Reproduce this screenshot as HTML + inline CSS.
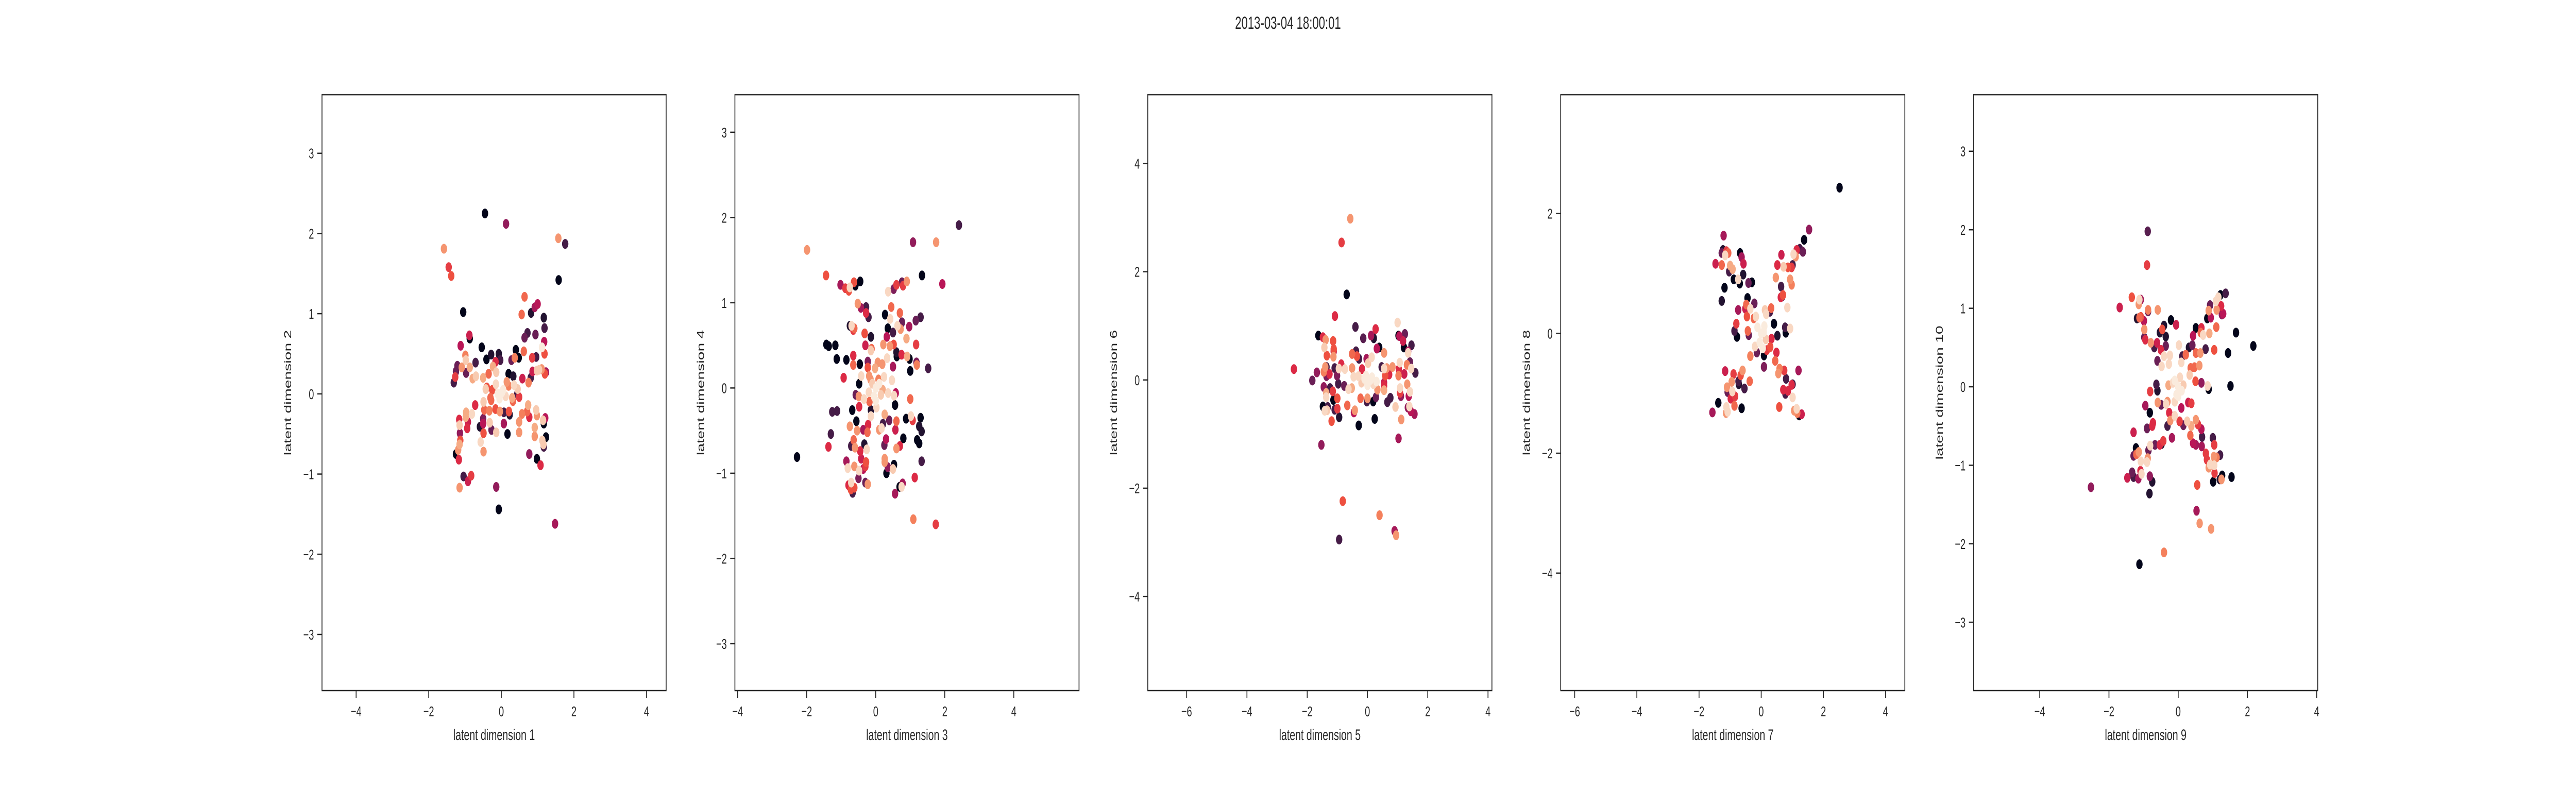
<!DOCTYPE html>
<html><head><meta charset="utf-8">
<style>
html,body{margin:0;padding:0;background:#fff;width:100%;height:100%;overflow:hidden;}
svg{display:block;position:absolute;left:0;top:0;width:100vw;height:100vh;font-family:"Liberation Sans","DejaVu Sans",sans-serif;}
</style></head>
<body>
<svg id="fig" viewBox="0 0 7680 1536" preserveAspectRatio="none" xmlns="http://www.w3.org/2000/svg">
<rect width="7680" height="1536" fill="#fff"/>
<text x="3840" y="56" text-anchor="middle" font-size="34" fill="#262626">2013-03-04 18:00:01</text>
</svg>
<script>
const xlabels = ["latent dimension 1","latent dimension 3","latent dimension 5","latent dimension 7","latent dimension 9"];
const ylabels = ["latent dimension 2","latent dimension 4","latent dimension 6","latent dimension 8","latent dimension 10"];
const xlims = [[-4.94,4.54],[-4.08,5.89],[-7.29,4.13],[-6.45,4.62],[-5.91,4.03]];
const ylims = [[-3.70,3.73],[-3.55,3.44],[-5.74,5.27],[-5.96,3.98],[-3.87,3.72]];
const xticks = [[-4,-2,0,2,4],[-4,-2,0,2,4],[-6,-4,-2,0,2,4],[-6,-4,-2,0,2,4],[-4,-2,0,2,4]];
const yticks = [[-3,-2,-1,0,1,2,3],[-3,-2,-1,0,1,2,3],[-4,-2,0,2,4],[-4,-2,0,2],[-3,-2,-1,0,1,2,3]];

const p1x = [-0.45,0.13,-1.58,-1.45,-1.38,1.57,1.76,1.58,-1.05,0.64,0.56,0.82,0.92,1.0,1.17,1.19,0.72,0.64,0.94,1.18,1.12,1.19,0.62,0.4,0.48,0.37,0.28,0.85,0.96,-0.88,-0.87,-1.12,-0.54,-0.41,-0.28,-0.07,-0.03,-0.71,-0.99,-0.98,-1.09,-0.87,-1.21,-1.25,-1.27,-1.31,-0.97,-0.79,-0.7,-0.5,-0.35,-0.23,-0.14,-0.16,-0.43,0.2,0.33,0.35,0.58,0.86,0.98,1.04,1.11,1.23,1.2,0.81,0.75,0.44,0.49,0.32,-0.49,-0.72,-0.28,-0.47,-0.33,-0.16,-0.04,0.21,0.23,0.07,0.57,0.74,0.71,0.96,0.98,1.21,1.17,1.15,0.77,0.49,0.49,0.92,0.92,1.23,1.13,1.16,1.17,0.77,0.98,1.08,0.17,0.07,-0.14,-0.27,-0.32,-0.5,-0.5,-0.59,-0.49,-0.57,-0.49,-0.81,-0.97,-0.98,-0.92,-0.94,-1.16,-1.15,-1.14,-1.13,-1.15,-1.19,-1.25,-1.17,-1.04,-0.92,-0.83,-1.15,-0.14,-0.07,1.48,-0.25,0.2,-0.3,0.3,-0.15,0.15,-0.4,0.45,0.0,-0.1,0.12,0.05,-0.05,0.02];
const p1y = [2.25,2.12,1.81,1.58,1.47,1.94,1.87,1.42,1.02,1.21,0.99,1.01,1.08,1.12,0.95,0.82,0.76,0.7,0.74,0.65,0.58,0.5,0.53,0.55,0.45,0.45,0.42,0.45,0.46,0.73,0.69,0.6,0.58,0.43,0.49,0.5,0.42,0.39,0.48,0.42,0.33,0.33,0.35,0.28,0.21,0.14,0.26,0.19,0.22,0.2,0.25,0.34,0.27,0.4,0.06,0.25,0.22,0.11,0.19,0.28,0.29,0.3,0.31,0.27,0.25,0.2,0.14,0.0,-0.04,-0.09,-0.1,-0.14,-0.08,-0.2,-0.21,-0.19,-0.22,-0.22,-0.26,-0.23,-0.25,-0.14,-0.22,-0.2,-0.27,-0.3,-0.37,-0.33,-0.29,-0.35,-0.48,-0.42,-0.53,-0.54,-0.58,-0.63,-0.66,-0.75,-0.81,-0.89,-0.5,-0.37,-0.48,-0.45,-0.36,-0.37,-0.31,-0.41,-0.49,-0.6,-0.72,-0.25,-0.23,-0.29,-0.35,-0.43,-0.32,-0.39,-0.49,-0.58,-0.63,-0.7,-0.75,-0.82,-1.03,-1.09,-1.02,-1.17,-1.16,-1.44,-1.62,0.05,0.1,-0.05,-0.05,0.12,0.15,0.08,0.06,0.01,0.0,-0.03,0.05,-0.06,0.02];
const p1c = [0,0.4,0.85,0.65,0.7,0.85,0.2,0,0,0.75,0.75,0.1,0.45,0.5,0.1,0.2,0.2,0.3,0.3,0.5,1,0.7,0.75,0,0,0.8,0.3,0.65,0.2,0.55,0,0.5,0,0,0.1,0.1,0.2,0.2,0.8,0.95,0.85,0.9,0.3,0.3,0.65,0.2,0.3,0.9,0.95,0.9,0.75,0.9,0.95,0.6,0.95,0,0.1,0.97,0.55,0.55,0.95,0.95,0.85,0.45,0.7,0.2,0.8,0.2,0.65,0.75,0.95,0.6,0.75,0.75,0.8,0.7,0.85,0.7,0.1,0.2,0.8,0.9,0.75,0.95,0.85,0.5,0,0.95,0.6,0.85,0.85,0.9,0.85,0,0.95,0.95,0.2,0.4,0,0.6,0,0.45,0.95,0.3,0.95,0.5,0.35,0.1,0.7,0.97,0.85,0.97,0.9,0.9,0.55,0.6,0.6,0.95,0.4,0.7,0.9,0.85,0,0.6,0.2,0.55,0.65,0.85,0.4,0,0.45,0.7,0.8,0.75,0.9,0.97,0.85,0.7,0.95,1,1,0.97,1,1,1];

const p2x = [2.41,1.08,1.75,-1.99,1.34,1.93,-1.44,-1.02,-0.88,-0.78,-0.75,-0.63,-0.45,-0.59,-0.52,-0.43,-0.28,-0.28,-0.21,0.36,0.52,0.6,0.76,0.79,0.9,0.45,0.27,0.7,0.42,0.63,0.76,0.72,0.97,1.16,1.3,0.35,0.5,0.32,0.89,1.17,0.22,0.41,0.52,0.6,0.61,0.75,0.91,0.98,1.18,1.19,1.52,1.0,0.5,0.33,-1.43,-1.36,-1.17,-1.13,-0.85,-0.75,-0.7,-0.62,-0.65,-0.32,-0.32,-0.14,-0.3,-0.12,-0.14,-0.65,-0.65,-0.46,-0.23,-0.23,-0.02,0.06,0.19,-0.93,-0.42,-0.19,0.24,0.47,-0.48,-0.58,-0.49,-0.34,-0.48,-0.18,-0.68,-1.26,-1.12,-0.14,-0.14,0.02,0.26,0.36,0.53,0.58,0.56,1.0,0.88,1.02,1.07,1.3,1.26,1.33,0.39,0.6,0.57,0.21,0.17,0.1,0.3,0.25,0.8,1.2,1.26,0.7,0.6,1.33,-0.56,-0.75,-0.54,-0.36,-0.24,-0.22,-1.3,-1.37,-0.64,-0.71,-0.6,-0.33,-0.26,-0.45,-0.42,-0.85,-0.81,-0.62,-0.48,-0.28,-0.3,-0.36,-0.5,-0.3,-0.23,-0.71,-0.79,-0.62,-0.67,-0.72,0.26,0.26,0.35,0.31,0.53,0.5,0.69,0.78,0.75,0.56,1.13,1.09,1.74,-2.28,-0.1,0.1,0.0,-0.2,0.2,-0.05,0.08,0.15,-0.15,0.0];
const p2y = [1.91,1.71,1.71,1.62,1.32,1.22,1.32,1.21,1.17,1.14,1.18,1.24,1.25,1.2,0.99,0.94,0.95,0.88,0.83,1.13,1.16,1.21,1.24,1.2,1.25,0.95,0.86,0.88,0.81,0.73,0.77,0.69,0.72,0.79,0.83,0.7,0.65,0.6,0.58,0.51,0.51,0.49,0.51,0.42,0.37,0.39,0.37,0.34,0.3,0.27,0.23,0.2,0.25,0.35,0.51,0.49,0.5,0.34,0.33,0.73,0.73,0.7,0.68,0.64,0.64,0.6,0.5,0.46,0.44,0.38,0.27,0.28,0.31,0.24,0.23,0.3,0.28,0.12,0.14,0.14,0.13,0.09,0.05,-0.08,-0.1,-0.13,-0.22,-0.16,-0.26,-0.28,-0.27,-0.26,-0.33,-0.23,-0.31,-0.06,-0.09,-0.06,-0.2,-0.13,-0.36,-0.33,-0.38,-0.35,-0.45,-0.51,-0.38,-0.39,-0.49,-0.42,-0.47,-0.49,-0.6,-0.67,-0.59,-0.61,-0.65,-0.68,-0.71,-0.86,-0.39,-0.45,-0.5,-0.49,-0.52,-0.43,-0.54,-0.69,-0.61,-0.68,-0.7,-0.66,-0.72,-0.74,-0.83,-0.86,-0.94,-0.92,-0.97,-0.87,-0.92,-0.95,-1.06,-1.11,-1.13,-1.11,-1.14,-1.17,-1.23,-1.19,-0.83,-0.87,-0.93,-1.0,-0.9,-0.95,-1.16,-1.12,-1.16,-1.24,-1.05,-1.54,-1.6,-0.81,0.05,0.05,0.0,-0.05,-0.02,-0.1,0.1,-0.08,0.1,-0.15];
const p2c = [0.2,0.4,0.85,0.85,0,0.5,0.7,0.45,0.65,0.7,0.97,0.7,0,0,0.85,0.45,0.2,0.6,0.2,0.97,0.35,0.65,0.3,0.65,0.85,0.75,0,0.75,0.97,0.97,0.3,0.85,0.45,0.3,0.2,0,0.2,0.5,0.9,0.65,0.85,0.85,0.7,0.1,0,0.6,0.9,0,0.35,0.8,0.2,0,0.45,0.97,0,0,0,0,0,0.1,0.97,0.75,0.65,0.2,0.7,0.1,0.55,0.75,0.95,0.6,0.75,0,0.35,0.7,0.9,0.85,0.85,0.6,0.97,0.85,0.97,0.97,0,0.3,0.85,0.97,0.6,0.75,0,0.2,0.2,0.1,0.97,0.97,0.9,0.97,0.97,0.5,0,0.75,0,0.97,0.65,0,0.1,0.1,0.3,0.75,0.55,0.2,0.97,0.85,0.5,0.3,0,0,0,0.6,0.85,0.2,0,0.85,0.85,0.45,0.75,0.6,0.2,0.6,0.75,0.2,0.85,0.1,0.97,0.6,0.55,0.45,0.97,0.85,0.97,0.7,0.65,0.5,0.35,0.3,0.85,0.97,0.6,0.7,0.2,0.7,0.85,0.85,0.4,0,0,0.95,0,0.45,0.97,0.45,0.6,0.8,0.65,0,0.95,1,1,0.97,0.9,1,0.8,0.95,0.85];

const p3x = [-0.57,-0.86,-0.69,-1.08,-0.4,-0.14,0.12,0.21,0.27,0.31,0.39,0.55,1.0,1.03,1.06,1.24,1.18,1.21,1.46,1.35,1.35,-1.63,-1.48,-1.39,-1.14,-1.43,-1.12,-1.35,-1.13,-1.12,-2.44,-1.68,-1.83,-1.4,-1.36,-1.45,-1.26,-1.36,-1.09,-0.95,-0.75,-1.01,-0.87,-0.51,-0.38,-0.35,-0.28,-0.03,0.14,0.02,-0.51,-0.18,-0.46,-0.3,0.47,0.55,0.64,0.72,0.83,1.07,1.03,1.04,1.22,1.31,1.41,1.45,1.59,0.59,0.55,-1.45,-1.37,-1.37,-1.48,-1.32,-1.42,-1.34,-1.15,-1.13,-1.0,-1.0,-1.09,-1.19,-0.94,-1.24,-0.97,-0.77,-0.67,-0.63,-0.52,-0.45,-0.42,-0.29,-0.23,-0.02,0.0,0.19,0.28,0.33,0.55,0.55,0.76,0.66,0.24,0.93,1.12,1.03,1.08,1.08,1.11,1.41,1.37,1.34,1.39,1.44,1.56,1.32,-1.53,-0.82,0.4,0.9,0.95,-0.94,-0.1,0.1,0.3,0.0,-0.2,0.15,-0.05,0.2];
const p3y = [2.98,2.54,1.58,1.18,0.98,0.77,0.82,0.77,0.94,0.58,0.6,0.5,1.06,0.82,0.81,0.85,0.72,0.6,0.64,0.53,0.5,0.82,0.79,0.74,0.72,0.6,0.57,0.45,0.43,0.53,0.2,0.14,-0.01,0.24,0.24,0.15,0.11,0.07,0.22,0.21,0.2,0.08,0.29,0.48,0.53,0.44,0.39,0.39,0.42,0.31,0.22,0.2,0.06,0.07,0.24,0.21,0.22,0.1,0.24,0.32,0.08,0.2,0.11,0.28,0.33,0.21,0.13,0.08,-0.05,-0.13,-0.24,-0.32,-0.49,-0.5,-0.57,-0.56,-0.21,-0.37,-0.34,-0.53,-0.55,-0.76,-0.69,-0.15,-0.07,-0.11,-0.47,-0.17,-0.15,-0.6,-0.56,-0.84,-0.34,-0.4,-0.34,-0.4,-0.32,-0.18,-0.19,-0.11,-0.33,-0.41,-0.72,-0.5,-0.73,-1.08,-0.15,-0.24,-0.3,-0.22,-0.3,-0.51,-0.49,-0.58,-0.63,-0.08,-1.2,-2.24,-2.5,-2.79,-2.87,-2.95,0.02,0.0,-0.03,-0.1,-0.05,0.05,0.08,-0.08];
const p3c = [0.85,0.65,0,0.6,0.2,0.25,0.45,0.1,0.6,0.5,0,0.85,0.97,0,0.5,0.3,0.55,0,0.2,0.45,0.97,0,0.6,0.85,0.7,0.95,0.7,0.7,0.85,0.55,0.6,0.4,0.3,0.85,0.2,0.8,0.6,0.35,0.2,0.97,0.97,0.35,0.6,0.75,0.2,0.7,0.2,0.45,0.97,0.95,0.85,0.6,0.97,0.97,0.2,0.97,0.85,0.6,0.85,0.97,0.8,0.6,0.55,0.8,0.3,0.97,0.2,0.7,0.55,0.4,0.9,0.97,0,0.2,0.97,0.95,0.65,0,0.7,0.65,0.2,0.7,0.1,0.2,0.2,0.3,0.75,0.97,0.9,0.5,0.85,0,0.75,0.2,0.85,0,0.3,0.85,0.9,0.6,0.2,0.2,0,0.95,0.85,0.45,0.97,0.65,0.4,0.97,0.5,0.4,0.97,0.5,0.45,0.85,0.4,0.7,0.8,0.45,0.85,0.2,1,1,1,1,0.95,1,1,0.97];

const p4x = [2.52,1.54,1.38,1.34,1.24,1.14,1.04,1.11,1.01,0.98,0.86,0.72,0.65,0.52,0.47,0.93,0.98,0.64,0.68,0.63,0.7,0.84,-1.21,-1.23,-1.27,-1.12,-1.06,-1.16,-1.47,-1.27,-1.0,-0.92,-1.03,-0.88,-0.74,-0.68,-0.63,-0.57,-0.58,-0.69,-0.41,-0.3,-1.18,-1.27,-0.44,-0.22,-0.48,-0.74,-0.51,-0.35,-0.46,-0.24,-0.17,0.12,0.16,0.32,0.28,0.41,-0.8,-0.86,-0.78,-0.43,-0.4,0.52,0.77,0.79,0.93,0.33,0.29,0.49,0.09,-0.14,-0.35,0.18,0.45,0.09,0.59,0.55,0.74,0.8,1.01,0.98,1.2,0.71,0.78,0.86,1.01,0.58,1.06,1.14,1.3,1.22,1.16,-1.16,-0.89,-0.6,-0.66,-0.37,-0.73,-0.72,-0.54,-0.95,-1.1,-1.08,-0.93,-0.98,-0.84,-0.86,-0.63,-1.38,-1.57,-1.12,-1.13,-1.08,0.0,-0.12,0.1,-0.2,0.15,0.05,-0.05,0.08];
const p4y = [2.43,1.73,1.56,1.36,1.41,1.39,1.32,1.28,1.14,1.1,1.1,1.11,1.31,1.14,0.93,0.9,0.81,0.78,0.62,0.6,0.64,0.43,1.63,1.39,1.34,1.37,1.34,1.3,1.16,1.14,1.13,1.07,1.03,0.9,0.9,1.34,1.27,1.16,0.98,0.83,0.84,0.85,0.76,0.54,0.59,0.5,0.48,0.39,0.41,0.41,0.28,0.25,0.28,0.39,0.32,0.42,0.36,0.16,0.16,0.04,-0.06,0.04,-0.03,-0.04,0.1,0.01,0.08,-0.09,-0.23,-0.32,-0.37,-0.32,-0.38,-0.28,-0.46,-0.56,-0.59,-0.67,-0.62,-0.76,-0.85,-0.86,-0.62,-0.94,-1.01,-0.96,-1.07,-1.23,-1.29,-1.26,-1.35,-1.37,-1.33,-0.63,-0.68,-0.62,-0.7,-0.8,-0.8,-0.85,-0.92,-0.81,-0.9,-0.98,-0.97,-1.09,-1.05,-1.21,-1.25,-1.16,-1.32,-1.23,-1.33,-1.31,0.0,0.1,0.12,-0.22,-0.1,-0.25,-0.15,0.02];
const p4c = [0,0.4,0,0.3,0.2,0.6,0.97,0.85,0.2,0.65,0.7,0.95,0.55,0.6,0.85,0.85,0.8,0.2,0.2,0.6,0.7,0.97,0.45,0.1,0.3,0.65,0.75,0.97,0.55,0.75,0.9,0.9,0.2,0,0.97,0,0.45,0.55,0.1,0,0.3,0,0,0.1,0,0.3,0.75,0.45,0.55,0.97,0.7,0.75,0.97,0.95,0.97,0.75,0.2,0,0.65,0.2,0,0.75,0.3,0.1,0.2,0,0.97,0.6,0.7,0.6,0,0.3,0.8,0.65,0.75,0.35,0.8,0.85,0.65,0.2,0.2,0.6,0.45,0.6,0.2,0.6,0.97,0.7,0.85,0.97,0.55,0,0.8,0.55,0.65,0.85,0.7,0.75,0.2,0.1,0.2,0.85,0.85,0.3,0.97,0.6,0.65,0.75,0,0,0.45,0.97,0.85,0.97,1,1,1,0.97,0.95,1,1,1];

const p5x = [-0.88,-0.9,-1.34,-1.08,-1.12,-1.14,-1.69,-0.87,-0.87,-0.59,-1.19,-1.08,-0.99,-1.12,-0.98,-0.98,-0.95,-0.79,-0.61,-0.69,-0.5,-0.6,-0.41,-0.24,-0.48,-0.27,-0.46,-0.53,-0.41,-0.36,-0.36,-0.21,-0.06,0.02,0.43,0.51,0.67,0.65,0.72,0.9,1.1,0.88,0.84,0.94,0.92,1.09,1.16,1.22,1.37,1.11,1.24,1.26,1.3,1.67,2.17,1.44,1.51,1.04,0.79,0.64,0.51,0.41,0.31,0.61,0.47,0.36,0.22,0.12,0.09,0.67,0.85,0.88,0.5,0.33,-0.63,-0.6,-0.81,-0.28,-0.95,-0.59,-0.49,-0.31,-0.35,-0.1,-0.82,-0.26,-0.1,-0.23,0.04,0.26,0.15,0.38,0.51,0.57,0.67,0.69,0.35,0.29,0.38,0.09,-0.31,-0.73,-0.75,-0.9,-1.29,-0.18,-0.43,-0.53,-0.48,-0.67,-0.81,-0.86,-1.22,-1.14,-1.21,-1.29,-0.88,-1.08,-0.9,-1.09,-1.06,-1.33,-1.29,-1.47,-1.15,-0.82,-0.75,-0.83,-2.52,0.43,0.51,0.68,1.0,1.04,0.8,0.83,1.03,1.11,1.21,0.88,1.04,0.92,1.05,1.27,1.2,1.25,1.54,1.01,0.55,0.53,0.62,0.95,-0.41,-1.12,0.0,-0.1,0.1,0.05,-0.05,0.15,-0.15,0.0];
const p5y = [1.98,1.55,1.14,1.11,1.11,1.05,1.01,0.96,0.98,0.98,0.87,0.89,0.84,0.88,0.73,0.63,0.6,0.56,0.56,0.5,0.47,0.33,0.39,0.4,0.26,0.29,0.73,0.69,0.78,0.64,0.52,0.85,0.79,0.53,0.65,0.75,0.75,0.69,0.66,0.68,0.76,0.97,0.87,0.88,1.04,1.09,1.14,1.17,1.19,0.98,1.03,0.92,0.93,0.69,0.52,0.43,0.01,0.47,0.48,0.43,0.43,0.53,0.5,0.27,0.25,0.24,0.41,0.39,0.31,0.05,0.01,-0.03,0.07,0.15,0.03,-0.05,-0.06,0.02,-0.24,-0.2,-0.23,-0.19,-0.22,-0.19,-0.33,-0.33,-0.37,-0.43,-0.44,-0.44,-0.49,-0.5,-0.42,-0.48,-0.54,-0.64,-0.62,-0.2,-0.21,-0.27,-0.5,-0.46,-0.5,-0.53,-0.58,-0.65,-0.69,-0.74,-0.73,-0.74,-0.75,-0.81,-0.78,-0.83,-0.86,-0.88,-0.91,-0.95,-0.96,-1.07,-1.11,-1.09,-1.15,-1.16,-1.17,-1.14,-1.21,-1.36,-1.28,-0.72,-0.74,-0.76,-0.65,-0.74,-0.85,-0.93,-0.89,-0.9,-0.87,-1.03,-1.0,-0.99,-1.1,-1.13,-1.18,-1.18,-1.15,-1.21,-1.25,-1.58,-1.74,-1.81,-2.11,-2.26,0.0,0.08,-0.05,0.12,-0.1,0.02,0.05,-0.12];
const p5c = [0.25,0.65,0.7,0.45,0.97,0.85,0.55,0.3,0.8,0.85,0.1,0.7,0.5,0.75,0.85,0.3,0.6,0.85,0.55,0.2,0.6,0.3,0.97,0.97,0.97,0.97,0.7,0.1,0.1,0.1,0.3,0,0.55,0.97,0.5,0,0.6,0.75,0.97,0.9,0.75,0.85,0,0.5,0.3,0.97,0.97,0,0.2,0.85,0.6,0.4,0.5,0,0,0,0,0.7,0.2,0.85,0.75,0.3,0.1,0.85,0.75,0.75,0.75,0.2,0.97,0.4,0.97,0,0.7,0.95,0.2,0.1,0.65,0.9,0.45,0.85,0.3,0.85,0.97,0.97,0,0.6,0.97,0.85,0.65,0.95,0.3,0.9,0.85,0.65,0.5,0.2,0.75,0.55,0.65,0.5,0.2,0.6,0.6,0.3,0.55,0.45,0.65,0.6,0.1,0.3,0.97,0.3,0,0.85,0.75,0.3,0.85,0.97,0.97,0.6,0.97,0.3,0.2,0.55,0.45,0.4,0.1,0.1,0.4,0.5,0.45,0.45,0.2,0.65,0.65,0.65,0.85,0.8,0.2,0.85,0.97,0.97,0.65,0,0.1,0.85,0,0,0.7,0.45,0.85,0.85,0.8,0,1,1,1,0.97,1,0.95,0.97,1];

const PX = [p1x,p2x,p3x,p4x,p5x];
const PY = [p1y,p2y,p3y,p4y,p5y];
const PC = [p1c,p2c,p3c,p4c,p5c];

const stops = [[0,'#03051a'],[0.1,'#221331'],[0.2,'#451c47'],[0.3,'#6a1f56'],[0.4,'#921c5b'],[0.5,'#b91657'],[0.6,'#dc2a45'],[0.7,'#ee5040'],[0.8,'#f4805c'],[0.9,'#f6ab85'],[1,'#faebdd']];
function hex2rgb(h){return [parseInt(h.substr(1,2),16),parseInt(h.substr(3,2),16),parseInt(h.substr(5,2),16)];}
function rocket(v){
  v=Math.max(0,Math.min(1,v));
  for(let i=0;i<stops.length-1;i++){
    const a=stops[i],b=stops[i+1];
    if(v<=b[0]){const t=(v-a[0])/(b[0]-a[0]);const ca=hex2rgb(a[1]),cb=hex2rgb(b[1]);
      return 'rgb('+ca.map((c,k)=>Math.round(c+(cb[k]-c)*t)).join(',')+')';}
  }
  return stops[stops.length-1][1];
}
const NS='http://www.w3.org/2000/svg';
const svg=document.getElementById('fig');
function mk(tag,attrs,parent){const e=document.createElementNS(NS,tag);for(const k in attrs)e.setAttribute(k,attrs[k]);(parent||svg).appendChild(e);return e;}
function fmt(v){return v<0?'\u2212'+Math.abs(v):String(v);}

const lefts=[960,2191,3422,4653,5884];
const W=1026, TOP=184, H=1157;
for(let p=0;p<5;p++){
  const L=lefts[p];
  const g=mk('g',{});
  
  
  const [x0,x1]=xlims[p],[y0,y1]=ylims[p];
  const sx=v=>L+(v-x0)/(x1-x0)*W;
  const sy=v=>TOP+(y1-v)/(y1-y0)*H;
  const clip=mk('clipPath',{id:'clip'+p},g);
  mk('rect',{x:L,y:TOP,width:W,height:H},clip);
  const pts=mk('g',{'clip-path':'url(#clip'+p+')'},g);
  
  
  const idx=PX[p].map((_,i)=>i).sort((a,b)=>PC[p][a]-PC[p][b]);
  idx.forEach(i=>{
    const c=mk('circle',{cx:sx(PX[p][i]).toFixed(1),cy:sy(PY[p][i]).toFixed(1),r:9.5,fill:rocket(PC[p][i])},pts);
    
    
  });
  const frame=mk('rect',{x:L,y:TOP,width:W,height:H,fill:'none',stroke:'#262626','stroke-width':2.5},g);
  
  
  xticks[p].forEach(t=>{
    const x=sx(t);
    mk('line',{x1:x,x2:x,y1:TOP+H,y2:TOP+H+14,stroke:'#262626','stroke-width':2.5},g);
    const tx=mk('text',{x:x,y:TOP+H+50,'text-anchor':'middle','font-size':28,fill:'#262626'},g);
    tx.textContent=fmt(t);
    
    
  });
  yticks[p].forEach(t=>{
    const y=sy(t);
    mk('line',{x1:L-14,x2:L,y1:y,y2:y,stroke:'#262626','stroke-width':2.5},g);
    const ty=mk('text',{x:L-24,y:y+10,'text-anchor':'end','font-size':28,fill:'#262626'},g);
    ty.textContent=fmt(t);
    
    
  });
  const xl=mk('text',{x:L+W/2,y:1437,'text-anchor':'middle','font-size':30,fill:'#262626'},g);
  xl.textContent=xlabels[p];
  
  
  const yx=L-92, yy=TOP+H/2;
  const yl=mk('text',{x:yx,y:yy,'text-anchor':'middle','font-size':30,fill:'#262626',transform:'rotate(-90 '+yx+' '+yy+')'},g);
  yl.textContent=ylabels[p];
  
  
}
</script>
</body></html>
